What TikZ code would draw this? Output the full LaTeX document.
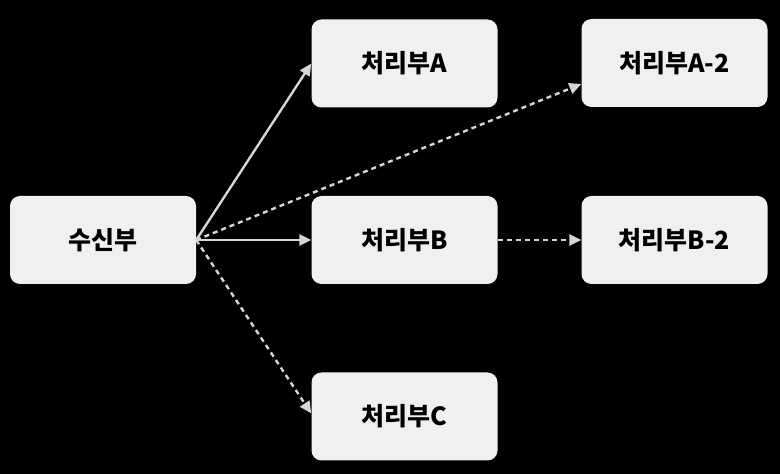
\documentclass[tikz,border=0pt]{standalone}
\usepackage{fontspec}
\setmainfont{Noto Sans CJK KR}
\usetikzlibrary{arrows.meta}
\definecolor{boxfill}{HTML}{F0F0F2}
\definecolor{linecol}{HTML}{D6D6D6}
\tikzset{
  box/.style={draw=none, fill=boxfill, rounded corners=10pt, minimum width=186pt, minimum height=88pt, inner sep=0pt, font=\fontsize{25}{28}\selectfont\bfseries, text=black},
  conn/.style={draw=linecol, line width=2.4pt, -{Triangle[length=12pt,width=11pt]}},
  dotconn/.style={conn, dash pattern=on 5pt off 4pt}
}
\begin{document}
\begin{tikzpicture}[x=1pt,y=1pt]
\fill[black] (0,0) rectangle (780,474);
\useasboundingbox (0,0) rectangle (780,474);
\node[box] (src) at (103,234) {수신부};
\node[box] (a) at (404.5,410.5) {처리부A};
\node[box] (b) at (404.5,234) {처리부B};
\node[box] (c) at (404.5,57.5) {처리부C};
\node[box] (a2) at (674.5,411) {처리부A-2};
\node[box] (b2) at (674.5,234) {처리부B-2};
\draw[conn] (src.east) -- (a.west);
\draw[conn] (src.east) -- (b.west);
\draw[dotconn] (src.east) -- ([yshift=-21pt]a2.west);
\draw[dotconn] (src.east) -- ([yshift=3pt]c.west);
\draw[dotconn] (b.east) -- (b2.west);
\end{tikzpicture}
\end{document}
